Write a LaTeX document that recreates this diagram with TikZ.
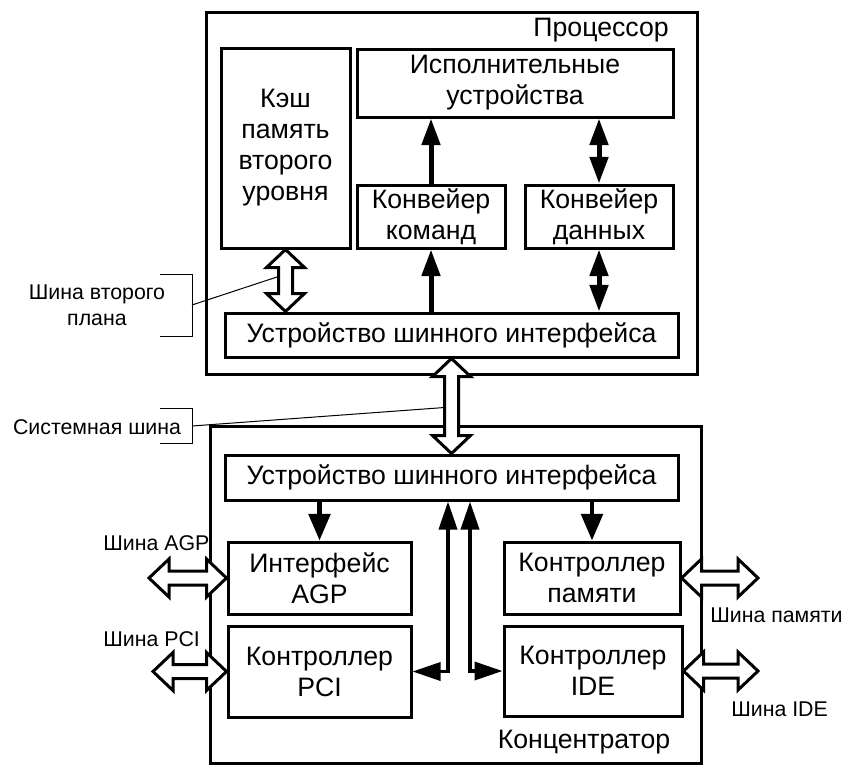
\documentclass[tikz,border=0pt]{standalone}
\usepackage{fontspec}
\setmainfont{Liberation Sans}
\usetikzlibrary{arrows.meta,calc}
\newcommand{\boxfont}{\fontsize{20}{23.25}\selectfont}
\newcommand{\lblfont}{\fontsize{16}{19.5}\selectfont}
\newcommand{\mybox}[6]{\node[box, minimum width={(#4-#2)*0.75pt}, minimum height={(#5-#3)*0.75pt}] (#1) at ({(#2+#4)/2},{(#3+#5)/2}) {#6};}
\newcommand{\vbus}[2]{\draw[bus] ($(#1)$) -- ($(#1)+(19,18)$) -- ($(#1)+(7,18)$) -- ($(#2)+(7,-18)$) -- ($(#2)+(19,-18)$) -- ($(#2)$) -- ($(#2)+(-19,-18)$) -- ($(#2)+(-7,-18)$) -- ($(#1)+(-7,18)$) -- ($(#1)+(-19,18)$) -- cycle;}
\newcommand{\hbus}[2]{\draw[bus] ($(#1)$) -- ($(#1)+(20,-19)$) -- ($(#1)+(20,-7)$) -- ($(#2)+(-20,-7)$) -- ($(#2)+(-20,-19)$) -- ($(#2)$) -- ($(#2)+(-20,19)$) -- ($(#2)+(-20,7)$) -- ($(#1)+(20,7)$) -- ($(#1)+(20,19)$) -- cycle;}
\tikzset{
  box/.style={draw, line width=2.25pt, align=center, font=\boxfont, inner sep=0pt},
  lbl/.style={font=\lblfont, align=center, inner sep=0pt},
  bus/.style={draw, fill=white, line width=2.25pt, line join=miter},
  pone/.style={line width=3.75pt, -{Triangle[length=20pt,width=13.5pt]}},
  ptwo/.style={line width=3.75pt, {Triangle[length=20pt,width=13.5pt]}-{Triangle[length=20pt,width=13.5pt]}},
  hone/.style={line width=3.5pt, -{Triangle[length=20pt,width=16pt]}},
  htwo/.style={line width=2.6pt, line join=miter, {Triangle[length=21pt,width=13.5pt]}-{Triangle[length=21pt,width=13.5pt]}},
  brk/.style={line width=0.75pt},
}
\begin{document}
\begin{tikzpicture}[x=0.75pt,y=-0.75pt]
\useasboundingbox (0,0) rectangle (843,765);
% processor
\mybox{proc}{206}{12}{697}{374}{}
\mybox{cache}{221}{48}{350}{248}{Кэш\\память\\второго\\уровня}
\mybox{exec}{357}{49}{673}{117}{Исполнительные\\устройства}
\mybox{kcmd}{357}{185}{505}{248}{Конвейер\\команд}
\mybox{kdat}{525}{185}{673}{248}{Конвейер\\данных}
\mybox{biu1}{225}{313}{678}{357}{Устройство шинного интерфейса}
\node[font=\boxfont, inner sep=0pt, anchor=base east] (proclbl) at (669,36) {Процессор};
% hub
\mybox{hub}{210}{426}{701}{763}{}
\mybox{biu2}{225}{455}{678}{500}{Устройство шинного интерфейса}
\mybox{agp}{228}{542}{411}{614}{Интерфейс\\AGP}
\mybox{mem}{504}{542}{680}{614}{Контроллер\\памяти}
\mybox{pci}{228}{626}{411}{717}{Контроллер\\PCI}
\mybox{ide}{504}{626}{682}{716}{Контроллер\\IDE}
\node[font=\boxfont, inner sep=0pt, anchor=base] (hublbl) at (584,748) {Концентратор};
% processor arrows
\draw[pone] (kcmd.north) -- (kcmd.north |- exec.south);
\draw[pone] (kcmd.south |- biu1.north) -- (kcmd.south);
\draw[ptwo] (kdat.north) -- (kdat.north |- exec.south);
\draw[ptwo] (kdat.south |- biu1.north) -- (kdat.south);
% hub arrows
\draw[hone] (agp.north |- biu2.south) -- (agp.north);
\draw[hone] (mem.north |- biu2.south) -- (mem.north);
\coordinate (lx) at (448,600);
\coordinate (rx) at (470,600);
\draw[htwo] (pci.east) -- (pci.east -| lx) -- (lx |- biu2.south);
\draw[htwo] (ide.west) -- (ide.west -| rx) -- (rx |- biu2.south);
% brackets and leaders
\draw[brk] (160,274) -- (192,274) -- (192,336) -- (160,336);
\coordinate (br1m) at (192,305);
\coordinate (l1end) at ($(cache.south)+(-7,27)$);
\draw[brk] (br1m) -- (l1end);
\node[lbl] (l1) at (97,305) {Шина второго\\плана};
\draw[brk] (160,408) -- (192,408) -- (192,443) -- (160,443);
\coordinate (br2m) at (192,426);
\coordinate (l2end) at ($(biu1.south)+(-7,49)$);
\draw[brk] (br2m) -- (l2end);
\node[lbl] (l2) at (97,427) {Системная шина};
% wide buses
\coordinate (cb) at (cache.south |- biu1.north);
\vbus{cache.south}{cb}
\vbus{biu1.south}{biu2.north}
\coordinate (agpfree) at (149,578);
\coordinate (pcifree) at (153,671.5);
\coordinate (memfree) at (758,578);
\coordinate (idefree) at (758,671);
\hbus{agpfree}{agp.west}
\hbus{pcifree}{pci.west}
\hbus{mem.east}{memfree}
\hbus{ide.east}{idefree}
% bus labels
\node[lbl, anchor=base west] (agplbl) at (103,550) {Шина AGP};
\node[lbl, anchor=base west] (pcilbl) at (103,646) {Шина PCI};
\node[lbl, anchor=base west] (memlbl) at (710,622) {Шина памяти};
\node[lbl, anchor=base west] (idelbl) at (731,716) {Шина IDE};
\end{tikzpicture}
\end{document}
